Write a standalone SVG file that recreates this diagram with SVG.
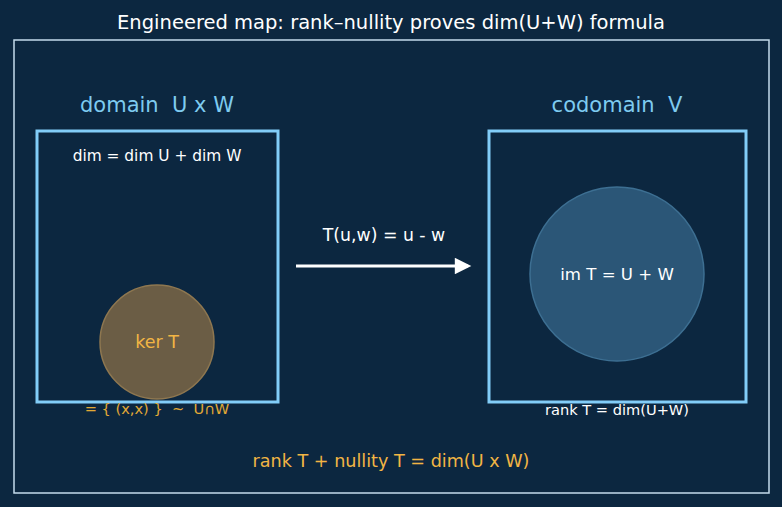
<svg xmlns="http://www.w3.org/2000/svg" width="782" height="507" viewBox="0 0 782 507">
<defs>
<style>
.t{font-family:"DejaVu Sans",sans-serif;text-anchor:middle;white-space:pre}
.box{fill:none;stroke:#82cdf8;stroke-width:3}
</style>
<marker id="ah" viewBox="0 0 10 10" refX="8" refY="5" markerWidth="6" markerHeight="5.5" orient="auto" markerUnits="strokeWidth">
<path d="M0,0 L10,5 L0,10 z" fill="#ffffff"/>
</marker>
</defs>
<rect width="782" height="507" fill="#0c2740"/>
<rect x="14" y="40" width="755" height="453" fill="none" stroke="#c4dcec" stroke-width="1.5"/>
<text class="t" x="391" y="29" font-size="19.5" fill="#ffffff">Engineered map: rank–nullity proves dim(U+W) formula</text>
<g id="domain">
<text class="t" x="157" y="112" font-size="21" fill="#7ecbf0" xml:space="preserve">domain  U x W</text>
<rect class="box" x="37" y="131" width="241" height="271"/>
<text class="t" x="157" y="161" font-size="15.4" fill="#ffffff">dim = dim U + dim W</text>
</g>
<g id="kernel">
<circle cx="157" cy="342" r="57" fill="#6b5d45" stroke="#8e7750" stroke-width="1.5"/>
<text class="t" x="157" y="348" font-size="17.5" fill="#f2b544">ker T</text>
<text class="t" x="157" y="414" font-size="14.6" fill="#e2a935" xml:space="preserve">= { (x,x) }  ~  U∩W</text>
</g>
<g id="codomain">
<text class="t" x="617" y="112" font-size="21" fill="#7ecbf0" xml:space="preserve">codomain  V</text>
<rect class="box" x="489" y="131" width="257" height="271"/>
<text class="t" x="617" y="415" font-size="14.6" fill="#ffffff">rank T = dim(U+W)</text>
</g>
<g id="image">
<circle cx="617" cy="274" r="87" fill="#2b5677" stroke="#3d6f92" stroke-width="1.5"/>
<text class="t" x="617" y="280" font-size="16.6" fill="#ffffff">im T = U + W</text>
</g>
<g id="connectors">
<line x1="296" y1="266" x2="468" y2="266" stroke="#ffffff" stroke-width="3" marker-end="url(#ah)"/>
<text class="t" x="384" y="241" font-size="17.3" fill="#ffffff">T(u,w) = u - w</text>
</g>
<text class="t" x="391" y="467" font-size="17.6" fill="#f2b544">rank T + nullity T = dim(U x W)</text>
</svg>
